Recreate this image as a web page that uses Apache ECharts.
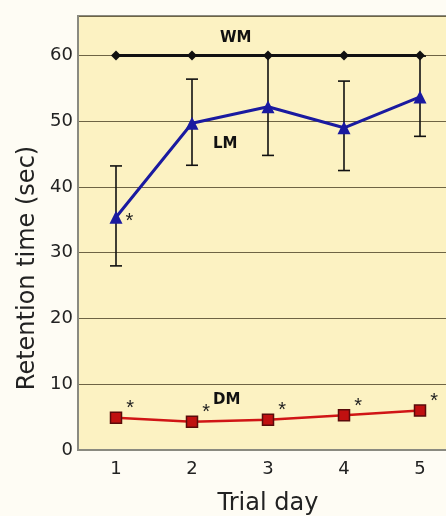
<!DOCTYPE html>
<html><head><meta charset="utf-8">
<script src="https://cdn.jsdelivr.net/npm/echarts@6/dist/echarts.min.js"></script>
<style>html,body{margin:0;padding:0;background:#FEFCF4;}#c{width:446px;height:516px;}</style>
</head><body><div id="c"></div>
<script>
const days = ['1','2','3','4','5'];
const wm = [60, 60, 60, 60, 60];
const lm = [35.4, 49.7, 52.2, 49.0, 53.7];
const lmHigh = [43.2, 56.4, 60.0, 56.1, 59.9];
const lmLow = [28.0, 43.3, 44.8, 42.5, 47.7];
const dm = [4.9, 4.3, 4.6, 5.3, 6.0];
const dmHigh = [5.4, 4.8, 5.1, 5.8, 6.5];
const dmLow = [4.4, 3.8, 4.1, 4.8, 5.5];
const lmStar = [true, false, false, false, false];
const dmStar = [true, true, true, true, true];

function errSeries(high, low, color) {
  return {
    type: 'custom', z: 5,
    data: days.map((d, i) => [i, low[i], high[i]]),
    renderItem: function (params, api) {
      const x = api.value(0);
      const p1 = api.coord([x, api.value(1)]);
      const p2 = api.coord([x, api.value(2)]);
      const w = 6;
      const st = { stroke: color, lineWidth: 1.6 };
      return { type: 'group', children: [
        { type: 'line', shape: { x1: p1[0], y1: p1[1], x2: p2[0], y2: p2[1] }, style: st },
        { type: 'line', shape: { x1: p1[0]-w, y1: p1[1], x2: p1[0]+w, y2: p1[1] }, style: st },
        { type: 'line', shape: { x1: p2[0]-w, y1: p2[1], x2: p2[0]+w, y2: p2[1] }, style: st }
      ]};
    }
  };
}

const chart = echarts.init(document.getElementById('c'));
chart.setOption({
  animation: false,
  backgroundColor: '#FEFCF4',
  grid: { left: 78, top: 16, width: 380, height: 434, show: true, backgroundColor: '#FCF2C2',
    borderColor: '#8a8a80', borderWidth: 2, outerBoundsMode: 'none', containLabel: false },
  xAxis: {
    type: 'category', data: days, boundaryGap: true,
    name: 'Trial day', nameLocation: 'middle', nameGap: 42,
    nameTextStyle: { fontSize: 24, color: '#222', fontFamily: 'DejaVu Sans' },
    axisLine: { lineStyle: { color: '#8a8a80', width: 2 } },
    axisTick: { show: false },
    axisLabel: { fontSize: 18, color: '#222', margin: 10, fontFamily: 'DejaVu Sans' }
  },
  yAxis: {
    type: 'value', min: 0, max: 66, interval: 10,
    axisLine: { show: true, lineStyle: { color: '#8a8a80', width: 2 } },
    axisTick: { show: false },
    axisLabel: { fontSize: 18, color: '#222', margin: 5, fontFamily: 'DejaVu Sans',
      formatter: v => (v % 10 === 0 && v <= 60) ? String(v) : '' },
    splitLine: { lineStyle: { color: '#6e6444', width: 1.2 } }
  },
  series: [
    errSeries(lmHigh, lmLow, '#111'),
    errSeries(dmHigh, dmLow, '#5a0a0a'),
    { type: 'line', data: wm, z: 6, symbol: 'diamond', symbolSize: 10,
      lineStyle: { color: '#111', width: 3 }, itemStyle: { color: '#111' } },
    { type: 'line', data: lm.map((v, i) => ({ value: v,
        label: { show: lmStar[i], formatter: '*', position: 'right', offset: [-2, 4], fontSize: 20, color: '#222' } })),
      z: 6, symbol: 'triangle', symbolSize: 13,
      lineStyle: { color: '#1a1aa0', width: 3 }, itemStyle: { color: '#1a1aa0' } },
    { type: 'line', data: dm.map((v, i) => ({ value: v,
        label: { show: dmStar[i], formatter: '*', position: 'right', offset: [-1, -9], fontSize: 20, color: '#222' } })),
      z: 6, symbol: 'rect', symbolSize: 11,
      lineStyle: { color: '#d01515', width: 2.5 }, itemStyle: { color: '#c01010', borderColor: '#5a0a0a', borderWidth: 1.5 } }
  ],
  graphic: [
    { type: 'text', x: 28, y: 268, rotation: Math.PI / 2,
      style: { text: 'Retention time (sec)', fontSize: 24, fill: '#222', fontFamily: 'DejaVu Sans',
        align: 'center', verticalAlign: 'middle' } },
    { type: 'text', left: 220, top: 31, style: { text: 'WM', fontSize: 15, fontWeight: 'bold', fill: '#111', fontFamily: 'DejaVu Sans' } },
    { type: 'text', left: 213, top: 137, style: { text: 'LM', fontSize: 15, fontWeight: 'bold', fill: '#111', fontFamily: 'DejaVu Sans' } },
    { type: 'text', left: 213, top: 393, style: { text: 'DM', fontSize: 15, fontWeight: 'bold', fill: '#111', fontFamily: 'DejaVu Sans' } }
  ]
});
</script></body></html>
